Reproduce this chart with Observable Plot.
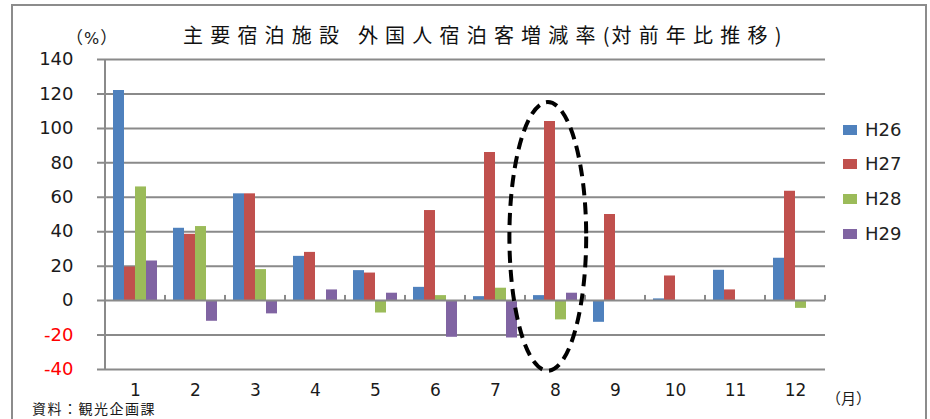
<!DOCTYPE html>
<html>
<head>
<meta charset="utf-8">
<script src="https://cdn.jsdelivr.net/npm/d3@7"></script>
<script src="https://cdn.jsdelivr.net/npm/@observablehq/plot@0.6"></script>
<style>
  html, body { margin: 0; padding: 0; background: #fff; }
  #wrap { position: relative; width: 930px; height: 419px; overflow: hidden; background: #fff; }
  #border { position: absolute; left: 11px; top: 4px; width: 916px; height: 440px; border: 2px solid #8c8c8c; box-sizing: border-box; }
  #chart { position: absolute; left: 0; top: 0; }
  .lbl { position: absolute; white-space: nowrap; color: #1a1a1a; line-height: 1; }
  #title { left: 183px; top: 20px; font: 20px "Noto Sans CJK JP", sans-serif; letter-spacing: 7.2px; color: #111; }
  #title .p { letter-spacing: 2px; }
  #unitY { left: 66px; top: 24px; font: 17px "Noto Sans CJK JP", sans-serif; }
  #unitY .pc { font: 16px "DejaVu Sans", sans-serif; margin: 0 1px; }
  #unitX { left: 826px; top: 387px; font: 15px "Noto Sans CJK JP", sans-serif; }
  #source { left: 32px; top: 398px; font: 14px "Noto Sans CJK JP", sans-serif; letter-spacing: 1.5px; }
  .leg { position: absolute; left: 843px; font: 18px "DejaVu Sans", sans-serif; color: #222; line-height: 1; white-space: nowrap; }
  .leg i { display: inline-block; width: 14px; height: 10px; margin-right: 8px; vertical-align: 1px; }
</style>
</head>
<body>
<div id="wrap">
  <div id="border"></div>
  <div id="chart"></div>
  <div id="title" class="lbl">主要宿泊施設 外国人宿泊客増減率<span class="p">(</span>対前年比推移<span class="p">)</span></div>
  <div id="unitY" class="lbl">（<span class="pc">%</span>）</div>
  <div id="unitX" class="lbl">（月）</div>
  <div id="source" class="lbl">資料：観光企画課</div>
  <div id="legend"></div>
</div>
<script>
// ---- data ----
const months = [1, 2, 3, 4, 5, 6, 7, 8, 9, 10, 11, 12];
const seriesNames = ["H26", "H27", "H28", "H29"];
const h26 = [122, 42, 62, 25.7, 17.4, 7.7, 2.3, 2.9, -12.6, 1, 17.6, 24.6];
const h27 = [19.5, 38.5, 62, 28, 16, 52.3, 86, 104, 50, 14.3, 6.2, 63.5];
const h28 = [66, 43, 18, null, -7.2, 2.9, 7.2, -11.2, null, null, null, -4.5];
const h29 = [23, -12, -7.7, 6.2, 4.3, -21.3, -21.7, 4.3, null, null, null, null];
const yTicks = [-40, -20, 0, 20, 40, 60, 80, 100, 120, 140];
const highlightMonth = 8;          // month circled by the dashed ellipse
const highlightRange = [-41, 115]; // vertical extent of the ellipse (in %)

// ---- style ----
const colors = ["#4F81BD", "#C0504D", "#9BBB59", "#8064A2"];
const W = 930, H = 419, mL = 105, mR = 105, mT = 59, mB = 50;
const bw = (W - mL - mR) / months.length; // band width
const barW = 11, gap0 = 8;
const gridColor = "#8a8a8a";
const ellipseShift = -0.12, ellipseRx = 0.64; // in band widths
const seriesData = [h26, h27, h28, h29];

const barMarks = seriesData.map((vals, s) =>
  Plot.barY(months, {
    x: d => d,
    y1: 0,
    y2: (d, i) => vals[i],
    fill: colors[s],
    insetLeft: gap0 + barW * s,
    insetRight: bw - gap0 - barW * (s + 1)
  })
);

function ellipseMark(index, scales, values, dims) {
  const sx = scales.x, sy = scales.y;
  const band = sx.bandwidth ? sx.bandwidth() : bw;
  const start = sx(months[0]);
  const centered = Math.abs(start - dims.marginLeft) > 1;
  const cx = sx(highlightMonth) + (centered ? 0 : band / 2) + ellipseShift * band;
  const yTop = sy(highlightRange[1]), yBot = sy(highlightRange[0]);
  const el = document.createElementNS("http://www.w3.org/2000/svg", "ellipse");
  el.setAttribute("cx", cx);
  el.setAttribute("cy", (yTop + yBot) / 2);
  el.setAttribute("rx", band * ellipseRx);
  el.setAttribute("ry", (yBot - yTop) / 2);
  el.setAttribute("fill", "none");
  el.setAttribute("stroke", "#000");
  el.setAttribute("stroke-width", 4);
  el.setAttribute("stroke-dasharray", "12 7");
  return el;
}

const chart = Plot.plot({
  width: W, height: H,
  marginLeft: mL, marginRight: mR, marginTop: mT, marginBottom: mB,
  style: { fontFamily: "DejaVu Sans, sans-serif", fontSize: "17px", background: "transparent", overflow: "visible" },
  x: { type: "band", domain: months, paddingInner: 0, paddingOuter: 0, round: false, axis: null },
  y: { domain: [-40, 140], axis: null },
  marks: [
    Plot.ruleY(yTicks.filter(d => d !== 0), { stroke: gridColor, strokeWidth: 2, insetLeft: -8 }),
    ...barMarks,
    Plot.ruleY([0], { stroke: gridColor, strokeWidth: 2, insetLeft: -8 }),
    // category tick marks on the zero axis
    Plot.barY(months, { x: d => d, y1: 0, y2: 3, fill: gridColor, insetLeft: -1, insetRight: bw - 1 }),
    Plot.barY([months[months.length - 1]], { x: d => d, y1: 0, y2: 3, fill: gridColor, insetLeft: bw - 1, insetRight: -1 }),
    // y axis line
    Plot.barY([months[0]], { x: d => d, y1: -40, y2: 140, fill: gridColor, insetLeft: -1, insetRight: bw - 1 }),
    // y tick labels
    Plot.text(yTicks, { y: d => d, text: d => String(d), frameAnchor: "left", textAnchor: "end", dx: -32,
      fontSize: 18, fill: d => d < 0 ? "#ff0000" : "#1a1a1a" }),
    // x tick labels
    Plot.text(months, { x: d => d, text: d => String(d), frameAnchor: "bottom", lineAnchor: "middle", dy: 21,
      fontSize: 17, fill: "#1a1a1a" }),
    ellipseMark
  ]
});
document.getElementById("chart").appendChild(chart);

// legend
const leg = document.getElementById("legend");
const legY = [121, 155, 190, 225];
seriesNames.forEach((n, i) => {
  const d = document.createElement("div");
  d.className = "leg";
  d.style.top = legY[i] + "px";
  d.innerHTML = `<i style="background:${colors[i]}"></i>${n}`;
  leg.appendChild(d);
});
</script>
</body>
</html>
